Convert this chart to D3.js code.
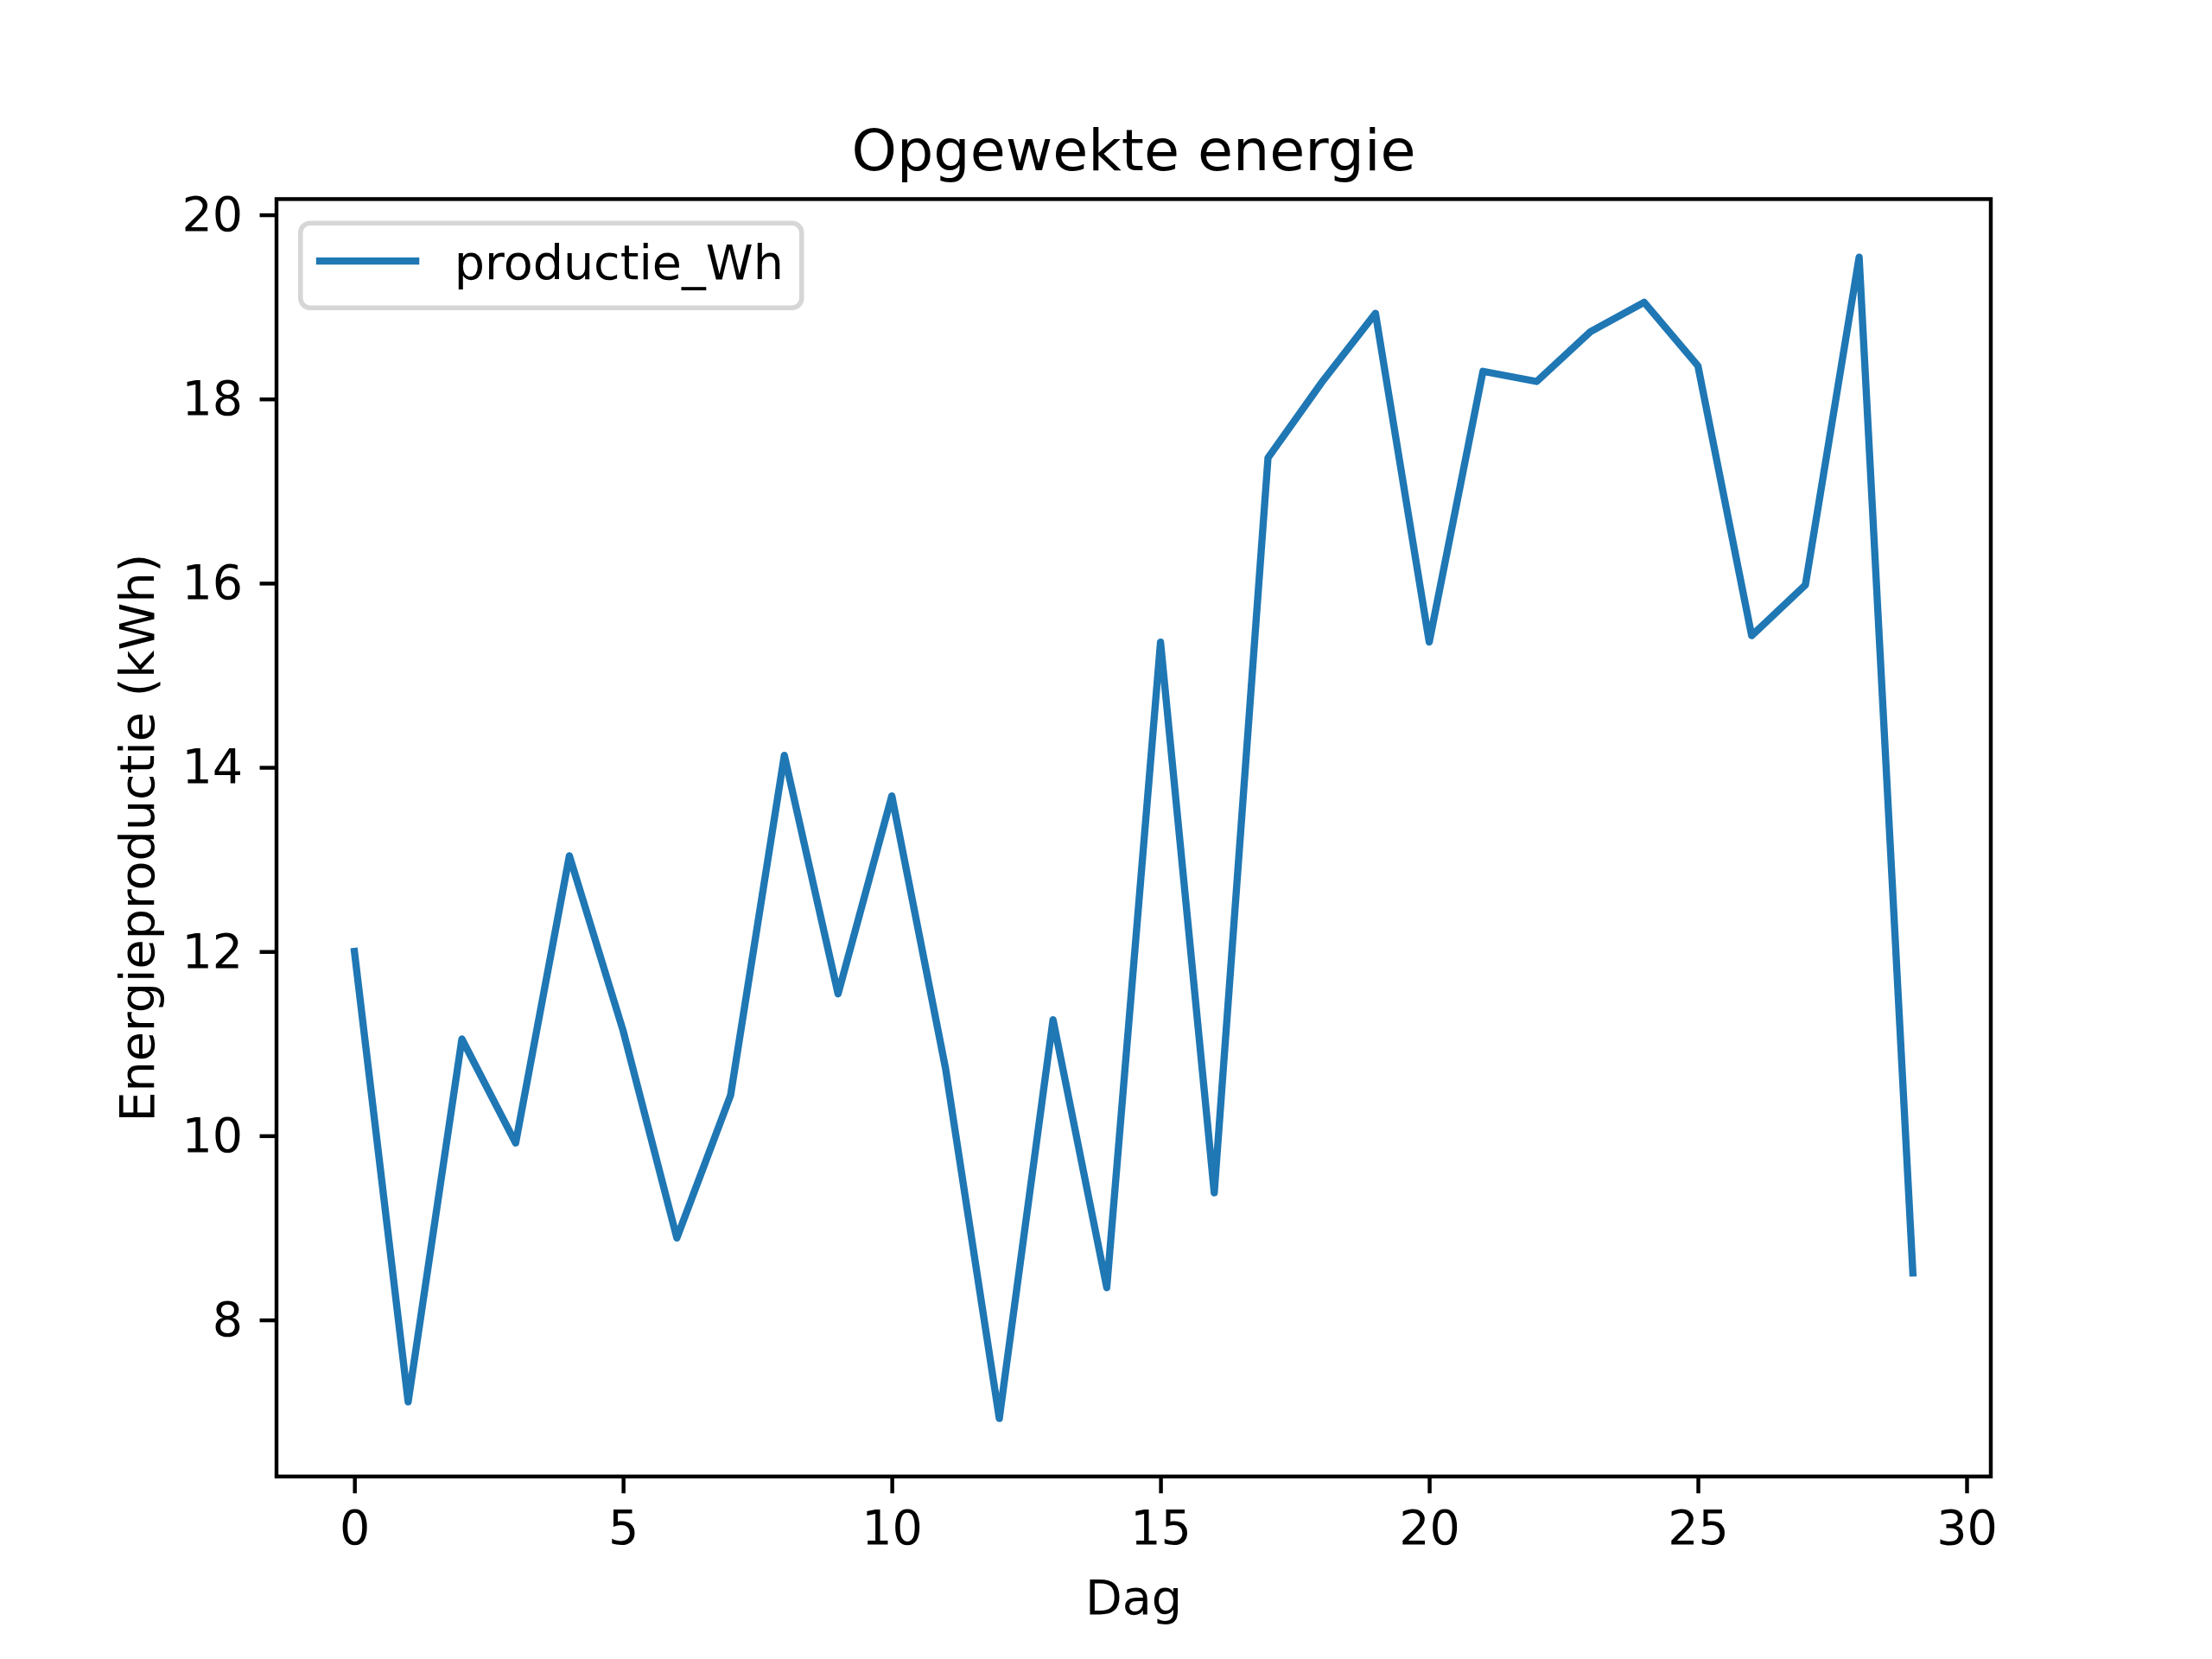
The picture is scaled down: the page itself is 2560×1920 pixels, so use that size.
<!DOCTYPE html>
<html>
<head>
<meta charset="utf-8">
<script src="https://cdn.jsdelivr.net/npm/d3@7"></script>
<style>
  body { margin: 0; background: #fff; }
  text { font-family: "DejaVu Sans", sans-serif; }
</style>
</head>
<body>
<div id="wrapper"></div>
<script>
// data
const days = [0, 1, 2, 3, 4, 5, 6, 7, 8, 9, 10, 11, 12, 13, 14, 15, 16, 17, 18, 19, 20, 21, 22, 23, 24, 25, 26, 27, 28, 29];
const productie = [12.0, 7.11, 11.05, 9.92, 13.04, 11.14, 8.89, 10.44, 14.13, 11.54,
                   13.69, 10.73, 6.93, 11.26, 8.35, 15.36, 9.38, 17.36, 18.18, 18.93,
                   15.36, 18.30, 18.19, 18.73, 19.05, 18.36, 15.43, 15.98, 19.54, 8.51];
const xTicks = [0, 5, 10, 15, 20, 25, 30];
const yTicks = [8, 10, 12, 14, 16, 18, 20];
const seriesName = "productie_Wh";
const titleText = "Opgewekte energie";
const xLabelText = "Dag";
const yLabelText = "Energieproductie (kWh)";

function buildPlot() {
    const pt = 400 / 72; // px per point at dpi 400
    const fs = 10 * pt;

    const dimention = {
        width: 2560,
        height: 1920,
        margin: { top: 230.4, left: 320, bottom: 211.2, right: 256 }
    };
    dimention.boundedWidth = dimention.width - dimention.margin.left - dimention.margin.right;
    dimention.boundedHeight = dimention.height - dimention.margin.top - dimention.margin.bottom;

    const svg = d3.select("#wrapper").append("svg")
        .attr("width", dimention.width)
        .attr("height", dimention.height);

    const bounded = svg.append("g")
        .attr("transform", `translate(${dimention.margin.left},${dimention.margin.top})`);

    // matplotlib style 5% padding on both axes
    const xExt = d3.extent(days), yExt = d3.extent(productie);
    const xPad = (xExt[1] - xExt[0]) * 0.05, yPad = (yExt[1] - yExt[0]) * 0.05;

    const xScaler = d3.scaleLinear()
        .domain([xExt[0] - xPad, xExt[1] + xPad])
        .range([0, dimention.boundedWidth]);
    const yScaler = d3.scaleLinear()
        .domain([yExt[0] - yPad, yExt[1] + yPad])
        .range([dimention.boundedHeight, 0]);

    const tickLen = 3.5 * pt;

    const xAxis = bounded.append("g")
        .attr("transform", `translate(0,${dimention.boundedHeight})`)
        .call(d3.axisBottom(xScaler).tickValues(xTicks).tickFormat(d3.format("d"))
            .tickSize(tickLen).tickSizeOuter(0).tickPadding(tickLen));
    const yAxis = bounded.append("g")
        .call(d3.axisLeft(yScaler).tickValues(yTicks).tickFormat(d3.format("d"))
            .tickSize(tickLen).tickSizeOuter(0).tickPadding(tickLen));

    [xAxis, yAxis].forEach(a => {
        a.select(".domain").remove();
        a.selectAll(".tick line").attr("stroke", "#000").attr("stroke-width", 0.8 * pt);
        a.selectAll(".tick text")
            .attr("fill", "#000")
            .style("font-size", fs + "px")
            .style("font-family", "DejaVu Sans");
    });

    // the line
    const lineGenerator = d3.line()
        .x((d, i) => xScaler(days[i]))
        .y(d => yScaler(d));

    bounded.append("path")
        .attr("fill", "none")
        .attr("stroke", "#1f77b4")
        .attr("stroke-width", 1.5 * pt)
        .attr("stroke-linejoin", "round")
        .attr("stroke-linecap", "square")
        .attr("d", lineGenerator(productie));

    // frame
    bounded.append("rect")
        .attr("width", dimention.boundedWidth)
        .attr("height", dimention.boundedHeight)
        .attr("fill", "none")
        .attr("stroke", "#000")
        .attr("stroke-width", 0.8 * pt);

    // legend (upper left)
    const lgX = 0.5 * fs, lgY = 0.5 * fs;
    const legend = bounded.append("g").attr("transform", `translate(${lgX},${lgY})`);
    legend.append("rect")
        .attr("width", 580)
        .attr("height", 98)
        .attr("rx", 0.2 * fs)
        .attr("fill", "#fff")
        .attr("fill-opacity", 0.8)
        .attr("stroke", "#cccccc")
        .attr("stroke-opacity", 0.8)
        .attr("stroke-width", 1 * pt);
    legend.append("line")
        .attr("x1", 0.4 * fs)
        .attr("x2", 2.4 * fs)
        .attr("y1", 44)
        .attr("y2", 44)
        .attr("stroke", "#1f77b4")
        .attr("stroke-width", 1.5 * pt)
        .attr("stroke-linecap", "square");
    legend.append("text")
        .attr("x", 178)
        .attr("y", 65)
        .style("font-size", fs + "px")
        .text(seriesName);

    // title and labels
    svg.append("text")
        .attr("x", dimention.margin.left + dimention.boundedWidth / 2)
        .attr("y", dimention.margin.top - 6 * pt)
        .attr("text-anchor", "middle")
        .style("font-size", 12 * pt + "px")
        .text(titleText);

    svg.append("text")
        .attr("x", dimention.margin.left + dimention.boundedWidth / 2)
        .attr("y", 1868)
        .attr("text-anchor", "middle")
        .style("font-size", fs + "px")
        .text(xLabelText);

    svg.append("text")
        .attr("transform", `translate(178,${dimention.margin.top + dimention.boundedHeight / 2}) rotate(-90)`)
        .attr("text-anchor", "middle")
        .style("font-size", fs + "px")
        .text(yLabelText);
}

buildPlot();
</script>
</body>
</html>
